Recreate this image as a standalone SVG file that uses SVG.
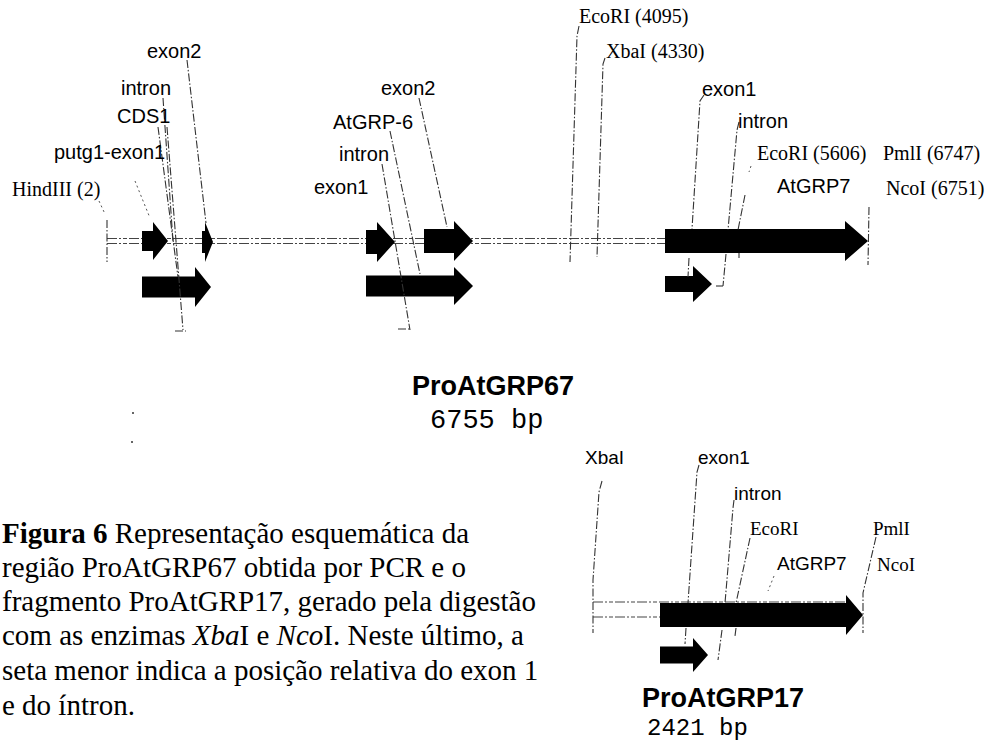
<svg xmlns="http://www.w3.org/2000/svg" width="987" height="742" viewBox="0 0 987 742">
<style>
.sans{font-family:"Liberation Sans",Arial,sans-serif;font-size:20px;fill:#000}
.sansb{font-family:"Liberation Sans",Arial,sans-serif;font-size:19px;fill:#000}
.ser{font-family:"Liberation Serif","Times New Roman",serif;font-size:20px;fill:#000}
.serb{font-family:"Liberation Serif","Times New Roman",serif;font-size:19px;fill:#000}
.title{font-family:"Liberation Sans",Arial,sans-serif;font-size:27px;font-weight:bold;fill:#000}
.title2{font-family:"Liberation Sans",Arial,sans-serif;font-size:27px;font-weight:bold;fill:#000}
.mono{font-family:"Liberation Mono","Courier New",monospace;font-size:27px;fill:#000}
.mono2{font-family:"Liberation Mono","Courier New",monospace;font-size:24px;fill:#000}
.cap{font-family:"Liberation Serif","Times New Roman",serif;font-size:29px;fill:#000}
.arr{fill:#000}
.ld{fill:none;stroke:#333;stroke-width:1.1;stroke-dasharray:8 2 1.5 2}
.dt{fill:none;stroke:#555;stroke-width:1;stroke-dasharray:2 3}
.bb{fill:none;stroke:#444;stroke-width:1.1;stroke-dasharray:10 2 2 2 4 2}
</style>

<g id="backbones">
  <line class="bb" x1="107" y1="238.5" x2="665" y2="238.5"/>
  <line class="bb" x1="107" y1="243.5" x2="665" y2="243.5"/>
  <line class="bb" x1="593" y1="602" x2="850" y2="602"/>
  <line class="bb" x1="593" y1="617" x2="661" y2="617"/>
</g>

<g id="feat-putg1-exon1"><polygon class="arr" points="142,231 153,231 153,222 168,241 153,260 153,251 142,251"/></g>
<g id="feat-exon2-a"><polygon class="arr" points="202,231 205,231 205,222 213,242 205,262 205,253 202,253"/></g>
<g id="feat-CDS1"><polygon class="arr" points="142,276.5 195,276.5 195,267 211,287 195,307 195,297.5 142,297.5"/></g>
<g id="feat-exon1-b"><polygon class="arr" points="366,230 377,230 377,222 395,242 377,262 377,254 366,254"/></g>
<g id="feat-exon2-b"><polygon class="arr" points="424,229 454,229 454,221 473,241 454,261 454,253 424,253"/></g>
<g id="feat-AtGRP-6"><polygon class="arr" points="366,275.5 454,275.5 454,267 473,286 454,305 454,296.5 366,296.5"/></g>
<g id="feat-AtGRP7-top"><polygon class="arr" points="665,229 845,229 845,221 868,241 845,261 845,253 665,253"/></g>
<g id="feat-exon1-top"><polygon class="arr" points="665,276 693,276 693,266 712,284 693,302 693,292 665,292"/></g>
<g id="feat-AtGRP7-bottom"><polygon class="arr" points="660,603 846,603 846,595 863,615 846,635 846,627 660,627"/></g>
<g id="feat-exon1-bottom"><polygon class="arr" points="660,646.5 693,646.5 693,638 708,655 693,672 693,663.5 660,663.5"/></g>

<g id="connectors">
  <line class="dt" x1="99" y1="201" x2="105" y2="214"/>
  <line class="ld" x1="107" y1="220" x2="107" y2="262"/>
  <line class="dt" x1="135" y1="181" x2="150" y2="218"/>
  <line class="ld" x1="163" y1="98" x2="173" y2="241"/>
  <line class="ld" x1="158" y1="127" x2="178" y2="277"/>
  <line class="ld" x1="167" y1="127" x2="183" y2="330"/>
  <line class="ld" x1="175" y1="331" x2="186" y2="331"/>
  <line class="ld" x1="187" y1="60" x2="206" y2="223"/>
  <line class="ld" x1="419" y1="98" x2="447" y2="227"/>
  <line class="ld" x1="390" y1="131" x2="420" y2="274"/>
  <line class="ld" x1="382" y1="164" x2="410" y2="330"/>
  <line class="ld" x1="398" y1="329" x2="411" y2="329"/>
  <polyline class="ld" points="579,26 577,36 570,262"/>
  <polyline class="ld" points="605,58 603,64 597,257"/>
  <polyline class="ld" points="704,95 700,101 692,229"/>
  <line class="ld" x1="689" y1="258" x2="688" y2="277"/>
  <polyline class="ld" points="739,122 737,130 728,230"/>
  <line class="ld" x1="726" y1="254" x2="723" y2="286"/>
  <line class="ld" x1="716" y1="286" x2="723" y2="286"/>
  <line class="dt" x1="751" y1="166" x2="749" y2="172"/>
  <line class="ld" x1="745" y1="195" x2="738" y2="230"/>
  <line class="ld" x1="739" y1="253" x2="739" y2="258"/>
  <line class="ld" x1="869" y1="207" x2="868" y2="265"/>
  <polyline class="ld" points="602,481 599,492 593,580 593,633"/>
  <polyline class="ld" points="699,465 697,472 688,603"/>
  <line class="ld" x1="686" y1="628" x2="685" y2="644"/>
  <polyline class="ld" points="734,500 733,508 725,603"/>
  <line class="ld" x1="722" y1="630" x2="718" y2="660"/>
  <line class="ld" x1="750" y1="538" x2="736" y2="603"/>
  <line class="ld" x1="736" y1="628" x2="735" y2="636"/>
  <line class="dt" x1="774" y1="576" x2="768" y2="591"/>
  <polyline class="ld" points="876,537 863,593 863,633"/>
</g>

<g id="labels-top">
  <text class="sans" x="147" y="58">exon2</text>
  <text class="sans" x="121" y="95">intron</text>
  <text class="sans" x="117" y="123">CDS1</text>
  <text class="sans" x="54" y="159">putg1-exon1</text>
  <text class="ser" x="12" y="196">HindIII (2)</text>
  <text class="sans" x="381" y="95">exon2</text>
  <text class="sans" x="333" y="129">AtGRP-6</text>
  <text class="sans" x="339" y="161">intron</text>
  <text class="sans" x="314" y="194">exon1</text>
  <text class="ser" x="579" y="23">EcoRI (4095)</text>
  <text class="ser" x="606" y="58">XbaI (4330)</text>
  <text class="sans" x="702" y="96">exon1</text>
  <text class="sans" x="738" y="128">intron</text>
  <text class="ser" x="757" y="160">EcoRI (5606)</text>
  <text class="ser" x="883" y="160">PmlI (6747)</text>
  <text class="sans" x="777" y="193">AtGRP7</text>
  <text class="ser" x="886" y="195">NcoI (6751)</text>
</g>
<g id="title-67">
  <text class="title" x="412" y="395">ProAtGRP67</text>
  <text class="mono" x="430" y="428">6755 bp</text>
</g>
<g id="marks">
  <circle cx="133" cy="413" r="1" fill="#333"/>
  <circle cx="132" cy="442" r="1" fill="#333"/>
</g>
<g id="labels-bottom">
  <text class="sansb" x="585" y="464">XbaI</text>
  <text class="sansb" x="698" y="464">exon1</text>
  <text class="sansb" x="734" y="500">intron</text>
  <text class="serb" x="750" y="535">EcoRI</text>
  <text class="serb" x="873" y="535">PmlI</text>
  <text class="sansb" x="777" y="570">AtGRP7</text>
  <text class="serb" x="877" y="571">NcoI</text>
</g>
<g id="title-17">
  <text class="title2" x="642" y="707">ProAtGRP17</text>
  <text class="mono2" x="647" y="735">2421 bp</text>
</g>
<g id="caption">
  <text class="cap" x="2" y="543"><tspan font-weight="bold">Figura 6</tspan> Representação esquemática da</text>
  <text class="cap" x="2" y="577">região ProAtGRP67 obtida por PCR e o</text>
  <text class="cap" x="2" y="611">fragmento ProAtGRP17, gerado pela digestão</text>
  <text class="cap" x="2" y="645">com as enzimas <tspan font-style="italic">Xba</tspan>I e <tspan font-style="italic">Nco</tspan>I. Neste último, a</text>
  <text class="cap" x="2" y="680">seta menor indica a posição relativa do exon 1</text>
  <text class="cap" x="2" y="715">e do íntron.</text>
</g>
</svg>
